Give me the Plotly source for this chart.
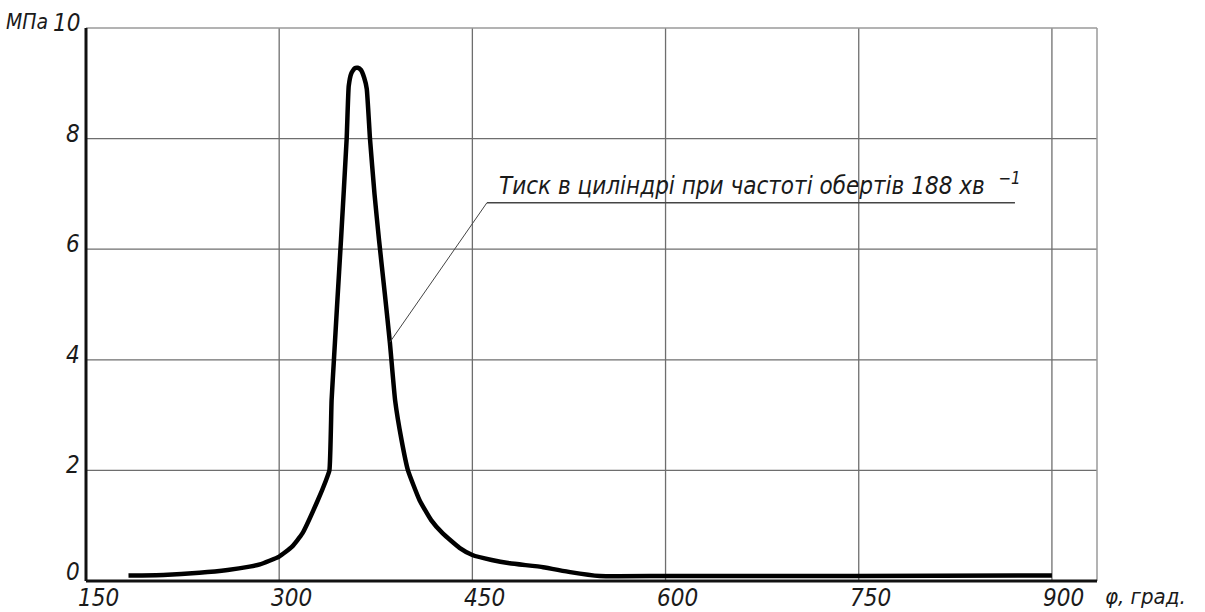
import plotly.graph_objects as go

# ---- data ----
phi = [183, 210, 238, 260, 277, 285, 300, 310, 318, 330, 336, 339, 340.7, 342.5, 345, 348,
       352.4, 354, 356, 358.5, 361, 363.5, 366, 368, 370.5, 374, 377.5, 382, 386, 390, 395, 400,
       409, 418, 427, 440, 450, 465, 479, 505, 526, 549, 600, 750, 900]
pressure = [0.1, 0.11, 0.15, 0.2, 0.26, 0.3, 0.44, 0.62, 0.86, 1.46, 1.8, 2.0, 3.27, 4.0, 5.0, 6.17,
            8.0, 8.95, 9.18, 9.27, 9.28, 9.24, 9.1, 8.9, 8.0, 7.0, 6.17, 5.2, 4.3, 3.27, 2.55, 2.0,
            1.46, 1.1, 0.86, 0.6, 0.47, 0.38, 0.32, 0.25, 0.16, 0.09, 0.09, 0.09, 0.1]

x_ticks = [150, 300, 450, 600, 750, 900]
y_ticks = [0, 2, 4, 6, 8, 10]
x_range = [150, 935]
y_range = [0, 10]

label_text = "Тиск в циліндрі при частоті обертів 188 хв"
label_sup = "−1"
y_unit = "МПа"
x_unit = "φ, град."

FONT = "DejaVu Sans Condensed, DejaVu Sans, sans-serif"
TXT = "#1a1a1a"

fig = go.Figure()
fig.add_trace(go.Scatter(x=phi, y=pressure, mode="lines",
                         line=dict(color="black", width=4.5, shape="spline", smoothing=0.4),
                         hoverinfo="skip", showlegend=False))

shapes = []
for xv in x_ticks[1:]:
    shapes.append(dict(type="line", xref="x", yref="paper", x0=xv, x1=xv, y0=0, y1=1,
                       line=dict(color="#6e6e6e", width=1.3), layer="below"))
for yv in y_ticks[1:-1]:
    shapes.append(dict(type="line", xref="paper", yref="y", x0=0, x1=1, y0=yv, y1=yv,
                       line=dict(color="#6e6e6e", width=1.3), layer="below"))
shapes.append(dict(type="line", xref="paper", yref="paper", x0=0, x1=1, y0=1, y1=1,
                   line=dict(color="#9a9a9a", width=1.5)))
shapes.append(dict(type="line", xref="paper", yref="paper", x0=1, x1=1, y0=0, y1=1,
                   line=dict(color="#9a9a9a", width=1.5)))
shapes.append(dict(type="line", xref="paper", yref="paper", x0=0, x1=0, y0=0, y1=1,
                   line=dict(color="#111", width=3)))
shapes.append(dict(type="line", xref="paper", yref="paper", x0=0, x1=1, y0=0, y1=0,
                   line=dict(color="#111", width=3)))
leader_x = [386.0, 461.3, 871.3]
leader_y = [4.32, 6.84, 6.84]
shapes.append(dict(type="line", xref="x", yref="y", x0=leader_x[0], y0=leader_y[0],
                   x1=leader_x[1], y1=leader_y[1], line=dict(color="#444", width=1)))
shapes.append(dict(type="line", xref="x", yref="y", x0=leader_x[1], y0=leader_y[1],
                   x1=leader_x[2], y1=leader_y[2], line=dict(color="#444", width=1.3)))

ann = []
for xv in x_ticks:
    ann.append(dict(x=xv, y=0, xref="x", yref="y", text=str(xv), showarrow=False,
                    xanchor="center", yanchor="top", xshift=12, yshift=-1,
                    font=dict(family=FONT, size=24, color=TXT, style="italic")))
for yv in y_ticks:
    ann.append(dict(x=0, y=yv, xref="paper", yref="y", text=str(yv), showarrow=False,
                    xanchor="right", yanchor="middle", xshift=-4, yshift=5 if yv else 9,
                    font=dict(family=FONT, size=24, color=TXT, style="italic")))
ann.append(dict(x=0, y=1, xref="paper", yref="paper", text=y_unit, showarrow=False,
                xanchor="right", yanchor="middle", xshift=-36, yshift=6,
                font=dict(family=FONT, size=21, color=TXT, style="italic")))
ann.append(dict(x=1, y=0, xref="paper", yref="paper", text=x_unit, showarrow=False,
                xanchor="left", yanchor="top", xshift=6, yshift=-1,
                font=dict(family=FONT, size=22, color=TXT, style="italic")))
ann.append(dict(x=469, y=leader_y[1], xref="x", yref="y",
                text=label_text + "&nbsp;&nbsp;<sup>" + label_sup + "</sup>", showarrow=False,
                xanchor="left", yanchor="bottom", yshift=1,
                font=dict(family=FONT, size=24, color=TXT, style="italic")))

fig.update_layout(
    width=1205, height=612,
    margin=dict(l=86, r=108, t=28, b=31),
    paper_bgcolor="white", plot_bgcolor="white",
    xaxis=dict(range=x_range, showgrid=False, zeroline=False, showticklabels=False,
               ticks="", showline=False, fixedrange=True),
    yaxis=dict(range=y_range, showgrid=False, zeroline=False, showticklabels=False,
               ticks="", showline=False, fixedrange=True),
    shapes=shapes, annotations=ann,
)

fig.write_html("out.html", config={"displayModeBar": False},
               post_script="document.body.style.margin='0';document.body.style.overflow='hidden';")
